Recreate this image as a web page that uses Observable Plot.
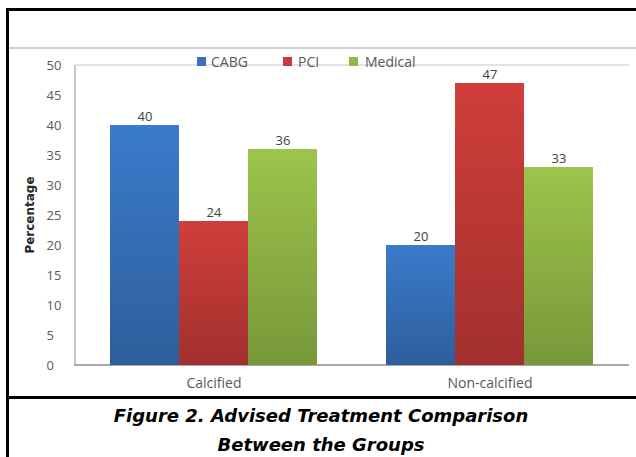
<!DOCTYPE html>
<html><head><meta charset="utf-8">
<script src="https://cdn.jsdelivr.net/npm/d3@7"></script>
<script src="https://cdn.jsdelivr.net/npm/@observablehq/plot@0.6"></script>
<style>
body{margin:0;background:#fff;}
#page{position:relative;width:636px;height:457px;overflow:hidden;font-family:"Open Sans",sans-serif;background:#fff;}
.ln{position:absolute;}
#chart{position:absolute;left:0;top:48px;}
.leg{position:absolute;top:55px;height:14px;font-size:14px;line-height:14px;color:#595959;white-space:nowrap;}
.sw{position:absolute;top:57px;width:9px;height:9px;}
#caption{position:absolute;left:6px;width:630px;top:401px;text-align:center;font-family:"DejaVu Sans",sans-serif;font-weight:bold;font-style:italic;font-size:18px;line-height:29px;color:#000;}
</style></head><body>
<div id="page">
  <div class="ln" style="left:6px;top:8px;width:3px;height:449px;background:#000"></div>
  <div class="ln" style="left:6px;top:8px;width:630px;height:3px;background:#000"></div>
  <div class="ln" style="left:9px;top:47px;width:627px;height:2px;background:#cfcfcf"></div>
  <div class="ln" style="left:6px;top:396px;width:630px;height:3px;background:#000"></div>
  <div id="chart"></div>
  <div id="legend"></div>
  <div id="caption"></div>
</div>
<script>
const groups = ["Calcified", "Non-calcified"];
const series = ["CABG", "PCI", "Medical"];
const cabg = [40, 20];
const pci = [24, 47];
const medical = [36, 33];
const yTicks = [0, 5, 10, 15, 20, 25, 30, 35, 40, 45, 50];
const yLabel = "Percentage";
const captionLines = ["Figure 2. Advised Treatment Comparison", "Between the Groups"];

const colorTop = ["#3b7bcb", "#d03e3a", "#9dc44b"];
const colorBottom = ["#2d5e9b", "#a2302e", "#77983a"];
const legendSwatch = ["#3a72c0", "#c83a37", "#8fba44"];

const valuesBySeries = [cabg, pci, medical];
const rows = groups.flatMap((g, gi) => series.map((s, si) => ({group: g, series: s, value: valuesBySeries[si][gi]})));

const plot = Plot.plot({
  width: 636, height: 348,
  marginLeft: 109, marginRight: 42, marginTop: 17, marginBottom: 31,
  style: {fontFamily: '"Open Sans", sans-serif', fontSize: "14px", color: "#595959", background: "transparent", overflow: "visible"},
  fx: {domain: groups, paddingInner: 0.2428, paddingOuter: 0, label: null},
  x: {domain: series, padding: 0, axis: null},
  y: {domain: [0, 50], label: null},
  color: {domain: series, range: series.map((s, i) => `url(#grad${i})`)},
  marks: [
    Plot.barY(rows, {fx: "group", x: "series", y: "value", fill: "series"}),
    Plot.text(rows, {fx: "group", x: "series", y: "value", text: d => String(d.value), dy: -9, fontSize: 13, fill: "#404040"}),
    Plot.axisY({ticks: yTicks, tickSize: 0, tickPadding: 63, textAnchor: "start", fontSize: 13, label: null}),
    Plot.axisFx({anchor: "bottom", tickSize: 0, tickPadding: 13, label: null, fontSize: 14})
  ]
});

const svg = d3.select(plot);
const defs = svg.insert("defs", ":first-child");
series.forEach((s, i) => {
  const g = defs.append("linearGradient").attr("id", `grad${i}`).attr("x1", 0).attr("y1", 0).attr("x2", 0).attr("y2", 1);
  g.append("stop").attr("offset", "0%").attr("stop-color", colorTop[i]);
  g.append("stop").attr("offset", "100%").attr("stop-color", colorBottom[i]);
});
const y = plot.scale("y");
const x0 = 75, x1 = 629;
const under = svg.insert("g", "defs + *");
under.append("line").attr("x1", x0).attr("x2", x1).attr("y1", y.apply(50)).attr("y2", y.apply(50)).attr("stroke", "#dadada").attr("stroke-width", 1.5);
under.append("line").attr("x1", x0).attr("x2", x0).attr("y1", y.apply(50)).attr("y2", y.apply(0) + 1).attr("stroke", "#b5b5b5").attr("stroke-width", 1.5);
under.append("line").attr("x1", x0 - 1).attr("x2", x1).attr("y1", y.apply(0)).attr("y2", y.apply(0)).attr("stroke", "#a8a8a8").attr("stroke-width", 2);
svg.append("text").attr("transform", `translate(34,${(y.apply(0) + y.apply(50)) / 2}) rotate(-90)`)
  .attr("text-anchor", "middle").attr("font-family", '"DejaVu Sans", sans-serif').attr("font-weight", "bold")
  .attr("font-size", 12).attr("fill", "#262626").text(yLabel);
document.getElementById("chart").appendChild(plot);

const swX = [197, 283, 349], txX = [211, 298, 365];
const leg = document.getElementById("legend");
series.forEach((s, i) => {
  const sw = document.createElement("div"); sw.className = "sw"; sw.style.left = swX[i] + "px"; sw.style.background = legendSwatch[i]; leg.appendChild(sw);
  const t = document.createElement("div"); t.className = "leg"; t.style.left = txX[i] + "px"; t.textContent = s; leg.appendChild(t);
});
document.getElementById("caption").innerHTML = captionLines.map(l => `<div>${l}</div>`).join("");
</script>
</body></html>
